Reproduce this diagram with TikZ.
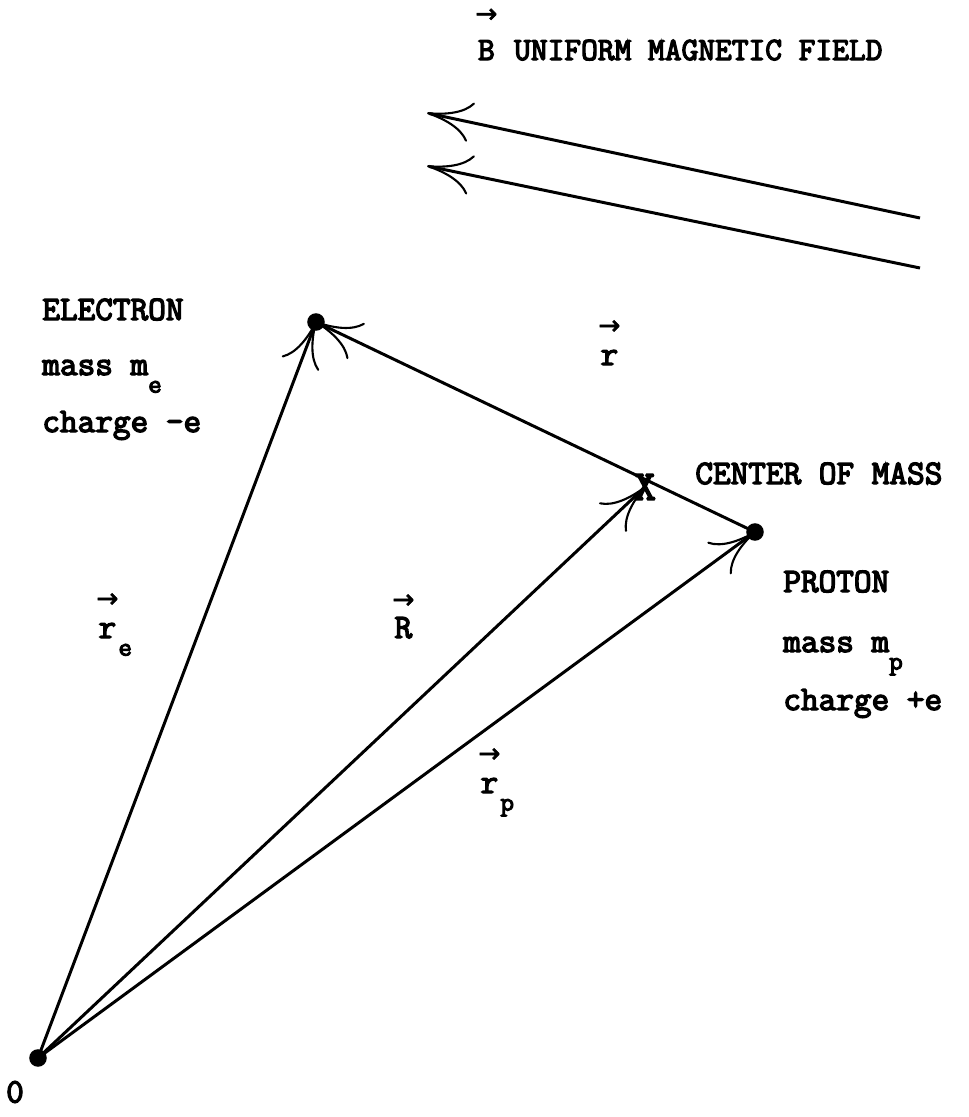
\documentclass[tikz,border=0pt]{standalone}
\usepackage{fontspec}
\newfontfamily\plotfont{Latin Modern Mono}[FakeBold=4]
\newfontfamily\arrowfont{DejaVu Sans}[FakeBold=2]
\usetikzlibrary{arrows.meta}
\tikzset{
  vec/.style={line width=1.7pt, -{To[length=9mm, width=8mm, line width=1.2pt]}},
  pt/.style={circle, fill, inner sep=0pt, minimum size=10pt},
  lbl/.style={font=\plotfont\fontsize{19.5}{24}\selectfont, inner sep=0pt},
}
\newcommand{\vecl}[2][6pt]{\shortstack{{\arrowfont\fontsize{15}{15}\selectfont →}\\[#1]#2}}
\newcommand{\lowsub}[1]{\raisebox{-10pt}{\fontsize{15}{16}\selectfont #1}}

\begin{document}
\begin{tikzpicture}[x=0.02cm,y=-0.02cm]
  \useasboundingbox (0,0) rectangle (969,1117);
  % points
  \coordinate (O) at (38,1058);
  \coordinate (el) at (316,322);
  \coordinate (pr) at (755,532);
  \coordinate (cm) at (645,487);
  \coordinate (b1s) at (920,218);
  \coordinate (b1e) at (427,113);
  \coordinate (b2s) at (920,268);
  \coordinate (b2e) at (427,166);
  % field
  \draw[vec] (b1s) -- (b1e);
  \draw[vec] (b2s) -- (b2e);
  \node[lbl, font=\plotfont\fontsize{18.5}{24}\selectfont, anchor=base west] (btitle) at (475,60) {\vecl[7pt]{B}~UNIFORM~MAGNETIC~FIELD};
  % position vectors
  \draw[vec] (O) -- (el);
  \draw[vec] (O) -- (cm);
  \draw[vec] (O) -- (pr);
  \draw[vec] (pr) -- (el);
  \node[pt] (eldot) at (el) {};
  \node[pt] (prdot) at (pr) {};
  \node[pt] (odot) at (O) {};
  \node[lbl, font=\plotfont\fontsize{24}{24}\selectfont] (cmx) at (cm) {X};
  % labels
  \node[lbl, anchor=base west] (elname) at (42,320) {ELECTRON};
  \node[lbl, anchor=base west] (elmass) at (42,375) {mass m\lowsub{e}};
  \node[lbl, anchor=base west] (elchg) at (42,432) {charge -e};
  \node[lbl, anchor=base west] (cmname) at (695,484) {CENTER~OF~MASS};
  \node[lbl, anchor=base west] (prname) at (783,592) {PROTON};
  \node[lbl, anchor=base west] (prmass) at (783,652) {mass m\lowsub{p}};
  \node[lbl, anchor=base west] (prchg) at (783,710) {charge +e};
  \node[lbl, anchor=base west] (rlab) at (598,365) {\vecl{r}};
  \node[lbl, anchor=base west] (relab) at (96,638) {\vecl{r}\lowsub{e}};
  \node[lbl, anchor=base west] (Rlab) at (392,638) {\vecl[2pt]{R}};
  \node[lbl, anchor=base west] (rplab) at (478,793) {\vecl{r}\lowsub{p}};
  \node[lbl] (olab) at (15,1092) {0};
\end{tikzpicture}
\end{document}
